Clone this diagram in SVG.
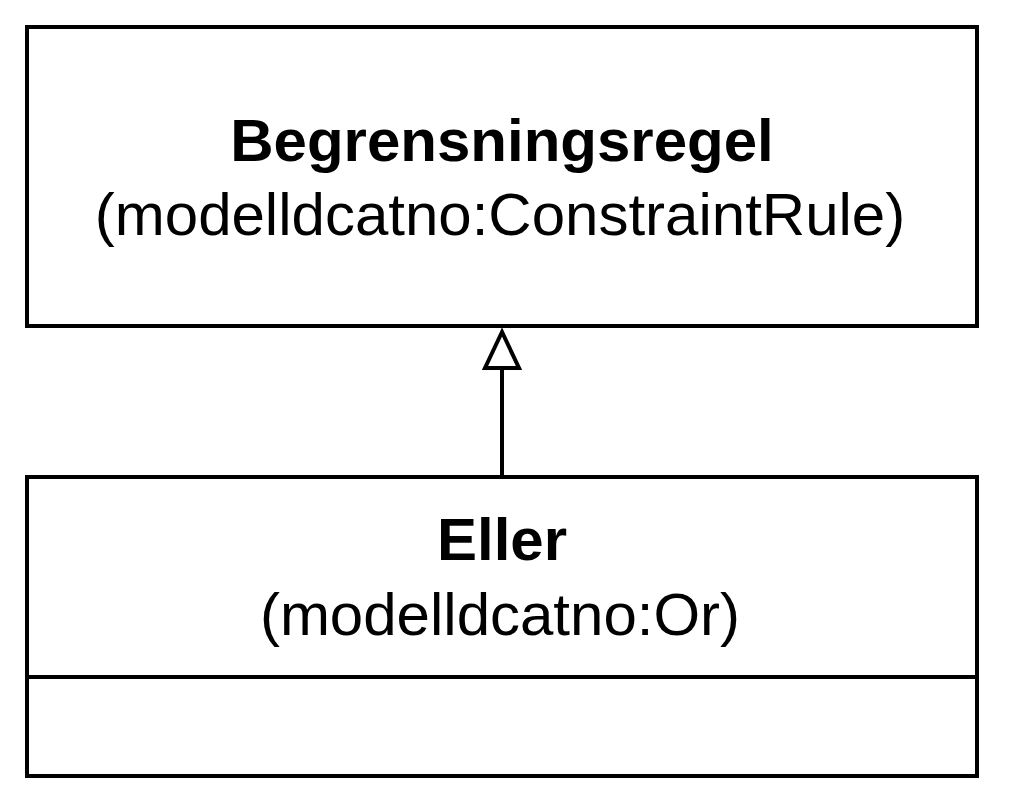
<svg xmlns="http://www.w3.org/2000/svg" width="1010" height="810" viewBox="0 0 1010 810">
<style>
.box{fill:#fff;stroke:#000;stroke-width:4}
.t{font-family:"Liberation Sans",Arial,sans-serif;font-size:60px;text-anchor:middle;fill:#000}
.b{font-weight:bold}
</style>
<rect width="1010" height="810" fill="#fff"/>
<g id="node-begrensningsregel">
<rect class="box" x="27" y="27" width="950" height="299"/>
<text class="t b" x="502" y="161">Begrensningsregel</text>
<text class="t" x="500" y="235">(modelldcatno:ConstraintRule)</text>
</g>
<g id="node-eller">
<rect class="box" x="27" y="477" width="950" height="299"/>
<line x1="27" y1="677" x2="977" y2="677" stroke="#000" stroke-width="4"/>
<text class="t b" x="502" y="560">Eller</text>
<text class="t" x="500" y="635">(modelldcatno:Or)</text>
</g>
<g id="connectors">
<line x1="502" y1="477" x2="502" y2="368" stroke="#000" stroke-width="4"/>
<polygon points="502,332 485,368 519,368" fill="#fff" stroke="#000" stroke-width="4"/>
</g>
</svg>
